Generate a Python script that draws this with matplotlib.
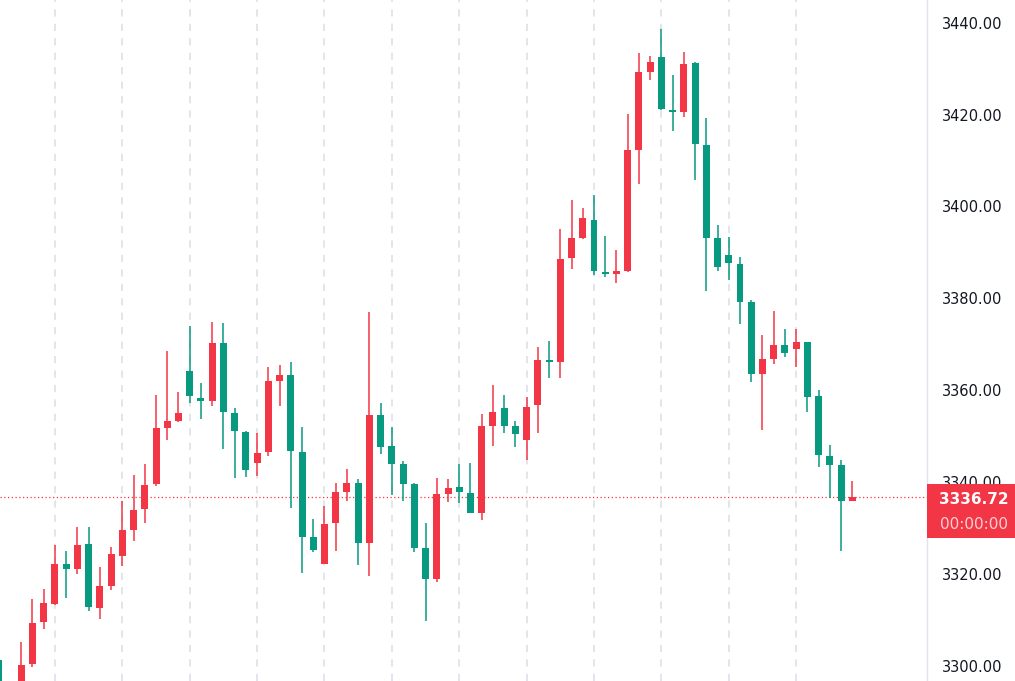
import matplotlib
matplotlib.use("Agg")
import matplotlib.pyplot as plt
import numpy as np
from matplotlib.patches import Rectangle
from matplotlib.transforms import blended_transform_factory

UP = '#f23645'
DOWN = '#089981'
GRID = '#e0e3eb'
TEXT = '#131722'

# OHLC, one entry per candle (red = up, green = down)
opens = [3301.3, 3293.0, 3295.5, 3300.4, 3309.5, 3313.5, 3322.1, 3321.2, 3326.5, 3312.7,
         3317.3, 3323.9, 3329.6, 3334.1, 3339.5, 3351.9, 3353.4, 3364.1, 3358.4, 3357.7,
         3370.2, 3355.1, 3350.9, 3344.2, 3346.6, 3362.1, 3363.3, 3346.6, 3328.0, 3322.1,
         3331.1, 3337.9, 3339.8, 3326.7, 3354.7, 3347.9, 3343.9, 3339.6, 3325.6, 3318.9,
         3337.5, 3338.9, 3337.6, 3333.4, 3352.3, 3356.1, 3352.2, 3349.2, 3356.7, 3366.6,
         3366.2, 3388.7, 3393.2, 3397.1, 3385.8, 3385.4, 3386.0, 3412.4, 3429.3, 3432.6,
         3421.0, 3420.6, 3431.2, 3413.4, 3393.2, 3389.4, 3387.5, 3379.2, 3363.6, 3366.7,
         3369.9, 3368.9, 3370.4, 3358.7, 3345.8, 3343.7, 3336.0]
closes = [3294.0, 3295.5, 3300.2, 3309.4, 3313.6, 3322.1, 3321.2, 3326.3, 3312.9, 3317.3,
          3324.4, 3329.5, 3334.0, 3339.4, 3351.7, 3353.3, 3355.1, 3358.7, 3357.6, 3370.2,
          3355.3, 3351.1, 3342.6, 3346.4, 3362.1, 3363.3, 3346.8, 3328.1, 3325.3, 3330.8,
          3337.9, 3339.9, 3326.8, 3354.7, 3347.6, 3344.0, 3339.5, 3325.6, 3319.0, 3337.4,
          3338.7, 3337.8, 3333.4, 3352.2, 3355.3, 3352.3, 3350.4, 3356.4, 3366.6, 3366.1,
          3388.6, 3393.2, 3397.4, 3386.0, 3385.4, 3386.0, 3412.2, 3429.3, 3431.5, 3421.2,
          3420.5, 3431.1, 3413.5, 3393.2, 3386.8, 3387.6, 3379.2, 3363.6, 3366.7, 3369.9,
          3368.2, 3370.4, 3358.6, 3345.9, 3343.8, 3336.0, 3336.72]
highs = [3302.4, 3296.0, 3305.3, 3314.6, 3316.8, 3326.3, 3325.0, 3330.2, 3330.2, 3321.5,
         3325.9, 3335.9, 3341.6, 3343.9, 3359.0, 3368.6, 3359.7, 3374.0, 3361.6, 3374.9,
         3374.6, 3356.2, 3351.1, 3350.6, 3365.1, 3365.5, 3366.2, 3352.0, 3331.9, 3334.9,
         3339.8, 3342.9, 3340.8, 3377.1, 3357.3, 3352.1, 3344.7, 3339.8, 3331.1, 3341.0,
         3340.7, 3343.9, 3344.2, 3354.8, 3361.1, 3359.0, 3353.3, 3358.5, 3369.5, 3370.7,
         3395.0, 3401.4, 3399.7, 3402.5, 3393.6, 3390.5, 3420.1, 3433.4, 3432.8, 3438.7,
         3428.6, 3433.7, 3431.4, 3419.3, 3396.0, 3393.4, 3388.9, 3379.6, 3372.0, 3377.2,
         3373.3, 3373.4, 3370.4, 3360.1, 3348.0, 3344.8, 3340.2]
lows = [3292.0, 3291.0, 3294.0, 3299.8, 3308.1, 3313.3, 3314.9, 3320.0, 3312.0, 3310.2,
        3316.5, 3321.8, 3327.3, 3331.1, 3339.2, 3349.2, 3353.2, 3357.2, 3353.8, 3356.6,
        3347.2, 3341.0, 3341.2, 3341.3, 3345.8, 3356.6, 3334.4, 3320.3, 3324.7, 3322.1,
        3325.1, 3336.0, 3322.0, 3319.6, 3346.1, 3337.2, 3336.0, 3324.7, 3309.8, 3318.3,
        3335.6, 3335.4, 3333.4, 3331.8, 3347.9, 3350.6, 3347.6, 3344.9, 3350.7, 3362.7,
        3362.7, 3386.3, 3393.0, 3385.1, 3384.7, 3383.3, 3385.8, 3405.0, 3427.5, 3421.0,
        3416.4, 3419.5, 3405.7, 3381.6, 3386.0, 3384.0, 3374.4, 3361.8, 3351.4, 3365.8,
        3367.3, 3365.1, 3355.3, 3343.2, 3336.5, 3325.0, 3335.8]

price_ticks = [3300, 3320, 3340, 3360, 3380, 3400, 3420, 3440]
last_price = closes[-1]
last_time = "00:00:00"

o = np.array(opens)
c = np.array(closes)
x = np.arange(len(o))
colors = np.where(c >= o, UP, DOWN)

fig = plt.figure(figsize=(10.15, 6.81), dpi=100)
ax = fig.add_axes([0, 0, 927 / 1015, 1])

ax.vlines(x, lows, highs, colors=colors, linewidth=1.1, zorder=2)
body = np.maximum(np.abs(c - o), 0.35)
ax.bar(x, body, bottom=np.minimum(o, c), width=0.62, color=colors, linewidth=0, zorder=3)

ax.set_xlim(0.107, 82.65)
ax.set_ylim(3296.73, 3444.94)

# dashed vertical grid, no horizontal grid
ax.set_xticks(range(5, 77, 6))
ax.tick_params(axis='x', length=0, labelbottom=False)
ax.grid(axis='x', color=GRID, linestyle=(0, (4, 4)), linewidth=1.3)
ax.set_axisbelow(True)

ax.yaxis.tick_right()
ax.set_yticks(price_ticks)
ax.set_yticklabels([f"{p:.2f}" for p in price_ticks])
ax.tick_params(axis='y', length=0, pad=11, labelsize=10.5, labelcolor=TEXT)

for side in ['top', 'left', 'bottom']:
    ax.spines[side].set_visible(False)
ax.spines['right'].set_color(GRID)
ax.spines['right'].set_linewidth(1)

# last price line and label
ax.axhline(last_price, color=UP, linestyle=(0, (1, 2)), linewidth=0.9, zorder=1)
trans = blended_transform_factory(fig.transFigure, ax.transData)
ax.add_patch(Rectangle((927 / 1015, 3327.9), 88 / 1015, 11.7, transform=trans,
                       facecolor=UP, edgecolor='none', clip_on=False, zorder=5))
ax.text(974 / 1015, 3336.3, f"{last_price:.2f}", transform=trans, ha='center', va='center',
        color='white', fontsize=11, fontweight='bold', zorder=6, clip_on=False)
ax.text(974 / 1015, 3330.8, last_time, transform=trans, ha='center', va='center',
        color='#fbd0d4', fontsize=11, zorder=6, clip_on=False)

fig.savefig("out.png", dpi=100, facecolor='white')
